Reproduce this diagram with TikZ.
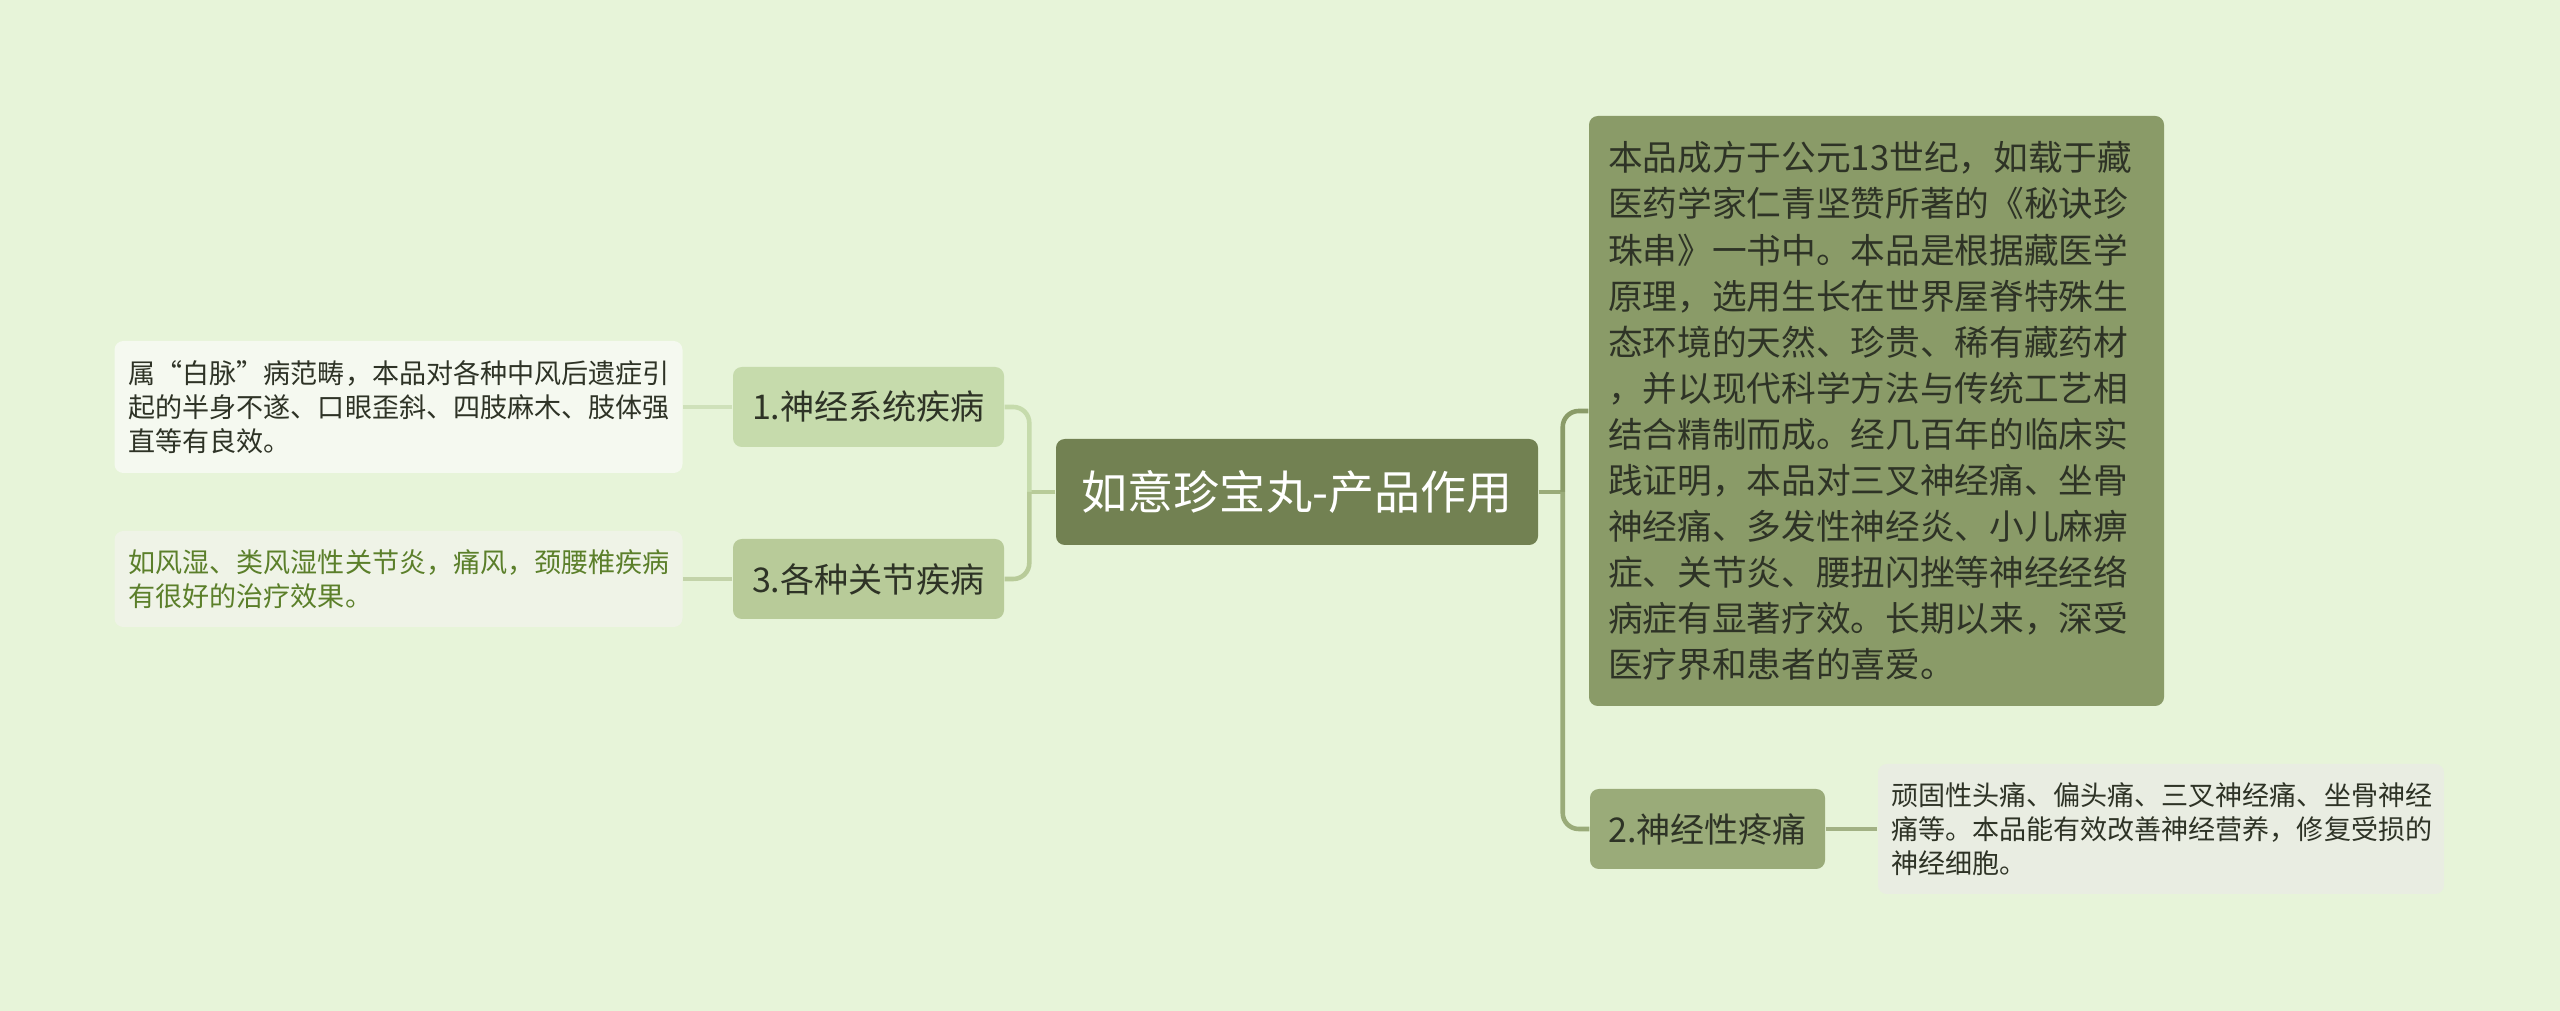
\documentclass[tikz,border=0pt]{standalone}
\usepackage{fontspec}
\setmainfont{Noto Sans CJK SC}
\usetikzlibrary{positioning}
\definecolor{bg}{HTML}{E7F4D9}
\definecolor{rootgreen}{HTML}{728152}
\definecolor{tone1}{HTML}{C6DBAC}
\definecolor{tone3}{HTML}{B8CB99}
\definecolor{tone2}{HTML}{9AAB79}
\definecolor{deep}{HTML}{8A9B68}
\definecolor{paper1}{HTML}{F5F9F0}
\definecolor{paper3}{HTML}{EFF3E7}
\definecolor{paper2}{HTML}{E9EDE2}
\definecolor{ink}{HTML}{2E3326}
\definecolor{leafgreen}{HTML}{5B7F2A}
\tikzset{
  rootbox/.style={rounded corners=2.5pt,fill=rootgreen,text=white,inner sep=0pt,
    minimum width=4.82cm,minimum height=1.06cm,font=\fontsize{13.1}{15}\selectfont},
  topic/.style={rounded corners=2.5pt,text=ink,inner sep=0pt,minimum height=0.80cm,
    minimum width=#1,font=\fontsize{9.7}{12}\selectfont},
  note/.style={rounded corners=2.5pt,text=ink,align=left,inner ysep=0pt,text width=#1,
    font=\fontsize{7.7}{9.7}\selectfont},
  link/.style={line width=1.3pt,rounded corners=0.16cm},
}
\begin{document}
\begin{tikzpicture}
\path[use as bounding box,fill=bg] (0,0) rectangle (25.6,-10.11);
% centre and first level
\node[rootbox] (r) at (12.97,-4.92) {如意珍宝丸-产品作用};
\node[topic=2.71cm,fill=tone1] (nerve) at (8.685,-4.07) {1.神经系统疾病};
\node[topic=2.71cm,fill=tone3] (joint) at (8.685,-5.79) {3.各种关节疾病};
\node[topic=2.35cm,fill=tone2] (pain) at (17.075,-8.29) {2.神经性疼痛};
\node[note=5.37cm,fill=deep,inner xsep=0.19cm,minimum height=5.90cm,
  font=\fontsize{9.87}{13.1}\selectfont] (about) at (18.765,-4.11)
  {本品成方于公元13世纪，如载于藏\\医药学家仁青坚赞所著的《秘诀珍\\珠串》一书中。本品是根据藏医学\\原理，选用生长在世界屋脊特殊生\\态环境的天然、珍贵、稀有藏药材\\，并以现代科学方法与传统工艺相\\结合精制而成。经几百年的临床实\\践证明，本品对三叉神经痛、坐骨\\神经痛、多发性神经炎、小儿麻痹\\症、关节炎、腰扭闪挫等神经经络\\病症有显著疗效。长期以来，深受\\医疗界和患者的喜爱。};
% leaves
\node[note=5.40cm,fill=paper1,inner xsep=0.14cm,minimum height=1.32cm] (nerveleaf) at (3.985,-4.07)
  {属“白脉”病范畴，本品对各种中风后遗症引\\起的半身不遂、口眼歪斜、四肢麻木、肢体强\\直等有良效。};
\node[note=5.40cm,fill=paper3,inner xsep=0.14cm,minimum height=0.96cm,text=leafgreen] (jointleaf) at (3.985,-5.79)
  {如风湿、类风湿性关节炎，痛风，颈腰椎疾病\\有很好的治疗效果。};
\node[note=5.40cm,fill=paper2,inner xsep=0.13cm,minimum height=1.30cm] (painleaf) at (21.61,-8.29)
  {顽固性头痛、偏头痛、三叉神经痛、坐骨神经\\痛等。本品能有效改善神经营养，修复受损的\\神经细胞。};
% connectors
\coordinate (lj) at ([xshift=-0.26cm]r.west);
\coordinate (rj) at ([xshift=0.24cm]r.east);
\draw[link,tone3] (r.west) -- (lj);
\draw[link,tone1] (nerve.east) -| (lj);
\draw[link,tone3] (lj) |- (joint.east);
\draw[link,tone2] (r.east) -- (rj);
\draw[link,deep] (about.west) -| (rj);
\draw[link,tone2] (rj) |- (pain.west);
\draw[link,tone1!80!paper1] (nerve.west) -- (nerveleaf.east);
\draw[link,tone3!80!paper3] (joint.west) -- (jointleaf.east);
\draw[link,tone2!90!paper2] (pain.east) -- (painleaf.west);
\end{tikzpicture}
\end{document}
